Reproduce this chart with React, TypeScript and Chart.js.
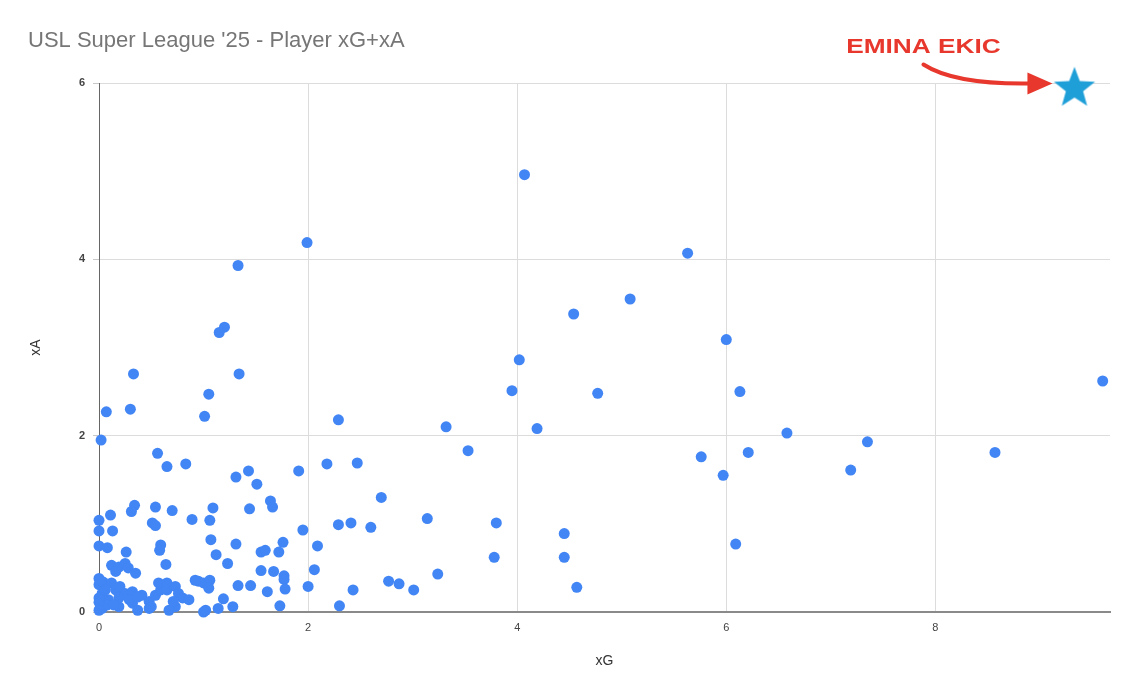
import React, { useEffect, useRef } from "react";
import { Chart, registerables } from "chart.js";

Chart.register(...registerables);

const chartTitle = "USL Super League '25 - Player xG+xA";
const xAxisTitle = "xG";
const yAxisTitle = "xA";
const highlightName = "EMINA EKIC";

const xTicks = [0, 2, 4, 6, 8];
const yTicks = [0, 2, 4, 6];

const playerXG = [
  4.07, 1.99, 5.63, 1.33, 5.08, 4.54, 1.2, 1.15, 6.0, 4.02,
  0.33, 1.34, 9.6, 3.95, 6.13, 4.77, 1.05, 0.07, 0.3, 1.01,
  2.29, 3.32, 4.19, 6.58, 0.02, 7.35, 3.53, 6.21, 8.57, 0.56,
  5.76, 0.83, 0.65, 2.18, 2.47, 1.43, 1.91, 7.19, 5.97, 1.31,
  1.51, 2.7, 1.64, 1.66, 0.34, 0.31, 0.54, 0.7, 1.09, 1.44,
  0.11, 0.0, 0.51, 0.54, 0.89, 1.06, 3.14, 3.8, 2.29, 2.41,
  2.6, 0.0, 0.13, 1.95, 4.45, 1.07, 0.0, 0.08, 0.59, 0.58,
  1.31, 1.76, 2.09, 6.09, 0.26, 1.55, 1.59, 1.72, 1.12, 3.78,
  4.45, 0.64, 1.23, 0.12, 0.19, 0.25, 0.16, 0.28, 1.55, 1.67,
  2.06, 0.35, 3.24, 1.77, 1.77, 0.95, 1.0, 1.06, 1.05, 1.33,
  1.45, 2.77, 2.87, 1.61, 1.78, 2.0, 2.43, 3.01, 4.57, 1.19,
  1.14, 1.28, 1.73, 2.3, 1.0, 0.0, 0.0, 0.04, 0.12, 0.16,
  0.2, 0.25, 0.32, 0.41, 0.48, 0.54, 0.59, 0.57, 0.65, 0.65,
  0.73, 0.76, 0.8, 0.86, 0.92, 1.02, 0.73, 0.67, 0.48, 0.32,
  0.19, 0.03, 0.09, 0.03, 0.19, 0.08, 0.14, 0.0, 0.0, 0.37,
  0.29, 0.37, 0.5, 0.71, 0.0, 0.06,
];

const playerXA = [
  4.96, 4.19, 4.07, 3.93, 3.55, 3.38, 3.23, 3.17, 3.09, 2.86,
  2.7, 2.7, 2.62, 2.51, 2.5, 2.48, 2.47, 2.27, 2.3, 2.22,
  2.18, 2.1, 2.08, 2.03, 1.95, 1.93, 1.83, 1.81, 1.81, 1.8,
  1.76, 1.68, 1.65, 1.68, 1.69, 1.6, 1.6, 1.61, 1.55, 1.53,
  1.45, 1.3, 1.26, 1.19, 1.21, 1.14, 1.19, 1.15, 1.18, 1.17,
  1.1, 1.04, 1.01, 0.98, 1.05, 1.04, 1.06, 1.01, 0.99, 1.01,
  0.96, 0.92, 0.92, 0.93, 0.89, 0.82, 0.75, 0.73, 0.76, 0.7,
  0.77, 0.79, 0.75, 0.77, 0.68, 0.68, 0.7, 0.68, 0.65, 0.62,
  0.62, 0.54, 0.55, 0.53, 0.51, 0.55, 0.46, 0.5, 0.47, 0.46,
  0.48, 0.44, 0.43, 0.41, 0.37, 0.35, 0.33, 0.36, 0.27, 0.3,
  0.3, 0.35, 0.32, 0.23, 0.26, 0.29, 0.25, 0.25, 0.28, 0.15,
  0.04, 0.06, 0.07, 0.07, 0.0, 0.38, 0.31, 0.34, 0.33, 0.25,
  0.29, 0.21, 0.23, 0.19, 0.12, 0.19, 0.25, 0.33, 0.33, 0.25,
  0.29, 0.21, 0.16, 0.14, 0.36, 0.02, 0.06, 0.02, 0.04, 0.1,
  0.06, 0.04, 0.14, 0.21, 0.16, 0.08, 0.08, 0.11, 0.02, 0.02,
  0.14, 0.17, 0.06, 0.12, 0.16, 0.25,
];

const highlightXG = [9.33];
const highlightXA = [5.96];

const X_MAX = 9.67;
const Y_MAX = 6;

function makeStar(size: number, color: string): HTMLCanvasElement {
  const c = document.createElement("canvas");
  c.width = size;
  c.height = size;
  const ctx = c.getContext("2d")!;
  const cx = size / 2;
  const cy = size / 2 + size * 0.04;
  const outer = size * 0.47;
  const inner = outer * 0.42;
  ctx.beginPath();
  for (let i = 0; i < 10; i++) {
    const r = i % 2 === 0 ? outer : inner;
    const a = -Math.PI / 2 + (i * Math.PI) / 5;
    const px = cx + r * Math.cos(a);
    const py = cy + r * Math.sin(a);
    if (i === 0) ctx.moveTo(px, py);
    else ctx.lineTo(px, py);
  }
  ctx.closePath();
  ctx.fillStyle = color;
  ctx.fill();
  return c;
}

const titlePlugin = {
  id: "sheetTitle",
  afterDraw(chart: any) {
    const ctx = chart.ctx;
    ctx.save();
    ctx.font = '22px "Liberation Sans", Arial, sans-serif';
    ctx.fillStyle = "#767676";
    ctx.textBaseline = "alphabetic";
    ctx.textAlign = "left";
    ctx.fillText(chartTitle, 28, 47);
    ctx.restore();
  },
};

const annotationPlugin = {
  id: "highlightAnnotation",
  afterDatasetsDraw(chart: any) {
    const meta = chart.getDatasetMeta(1);
    if (!meta || !meta.data || !meta.data[0]) return;
    const sx = meta.data[0].x;
    const sy = meta.data[0].y;
    const ctx = chart.ctx;
    ctx.save();
    const red = "#e8382d";
    ctx.translate(sx - 151, sy - 39);
    ctx.scale(1.25, 1);
    ctx.font = 'bold 21px "Liberation Sans", Arial, sans-serif';
    ctx.fillStyle = red;
    ctx.textAlign = "center";
    ctx.textBaseline = "middle";
    ctx.fillText(highlightName, 0, 0);
    ctx.setTransform(1, 0, 0, 1, 0, 0);
    ctx.strokeStyle = red;
    ctx.lineWidth = 4;
    ctx.lineCap = "round";
    ctx.beginPath();
    ctx.moveTo(sx - 151, sy - 22);
    ctx.quadraticCurveTo(sx - 120, sy - 2, sx - 45, sy - 3);
    ctx.stroke();
    ctx.beginPath();
    ctx.moveTo(sx - 22, sy - 3);
    ctx.lineTo(sx - 47, sy - 14);
    ctx.lineTo(sx - 47, sy + 8);
    ctx.closePath();
    ctx.fillStyle = red;
    ctx.fill();
    ctx.restore();
  },
};

export default function App() {
  const canvasRef = useRef<HTMLCanvasElement | null>(null);

  useEffect(() => {
    document.body.style.margin = "0";
    const canvas = canvasRef.current;
    if (!canvas) return;
    const star = makeStar(46, "#1f9fd8");
    const mainData = playerXG.map((x, i) => ({ x, y: playerXA[i] }));
    const starData = highlightXG.map((x, i) => ({ x, y: highlightXA[i] }));

    const chart = new Chart(canvas, {
      type: "scatter",
      data: {
        datasets: [
          {
            label: "xA",
            data: mainData,
            backgroundColor: "#4285f4",
            borderColor: "#4285f4",
            borderWidth: 0,
            pointRadius: 5.5,
            pointHoverRadius: 5.5,
            clip: false,
          },
          {
            label: "highlight",
            data: starData,
            pointStyle: star as any,
            pointRadius: 23,
            clip: false,
          },
        ],
      },
      options: {
        responsive: false,
        animation: false,
        events: [],
        layout: { autoPadding: false, padding: { top: 83, left: 28, right: 15, bottom: 0 } },
        plugins: {
          legend: { display: false },
          tooltip: { enabled: false },
          title: { display: false },
        },
        scales: {
          x: {
            type: "linear",
            min: 0,
            max: X_MAX,
            afterFit(scale: any) {
              scale.height = 78;
            },
            afterBuildTicks(scale: any) {
              scale.ticks = xTicks.map((v) => ({ value: v }));
            },
            ticks: {
              includeBounds: false,
              padding: 9,
              color: "#444",
              font: { size: 11, family: '"Liberation Sans", Arial, sans-serif' },
              maxRotation: 0,
            },
            grid: {
              color: "#dcdcdc",
              lineWidth: 1,
              drawTicks: false,
            },
            border: { display: true, color: "#8a8a8a", width: 2 },
            title: {
              display: true,
              text: xAxisTitle,
              color: "#333",
              font: { size: 14, family: '"Liberation Sans", Arial, sans-serif' },
              padding: { top: 4, bottom: 20 },
            },
          },
          y: {
            type: "linear",
            min: 0,
            max: Y_MAX,
            afterFit(scale: any) {
              scale.width = 71;
            },
            afterBuildTicks(scale: any) {
              scale.ticks = yTicks.map((v) => ({ value: v }));
            },
            ticks: {
              includeBounds: false,
              padding: 8,
              color: "#444",
              font: { size: 11, family: '"Liberation Sans", Arial, sans-serif', weight: "bold" },
            },
            grid: {
              color: "#dcdcdc",
              lineWidth: 1,
              drawTicks: true,
              tickLength: 6,
              tickColor: "#c8c8c8",
            },
            border: { display: true, color: "#666", width: 1 },
            title: {
              display: true,
              text: yAxisTitle,
              color: "#333",
              font: { size: 14, family: '"Liberation Sans", Arial, sans-serif' },
              padding: { top: 0, bottom: 0 },
            },
          },
        },
      },
      plugins: [titlePlugin, annotationPlugin],
    } as any);

    return () => {
      chart.destroy();
    };
  }, []);

  return (
    <div style={{ width: 1125, height: 690, background: "#fff" }}>
      <canvas ref={canvasRef} width={1125} height={690} style={{ display: "block" }} />
    </div>
  );
}
